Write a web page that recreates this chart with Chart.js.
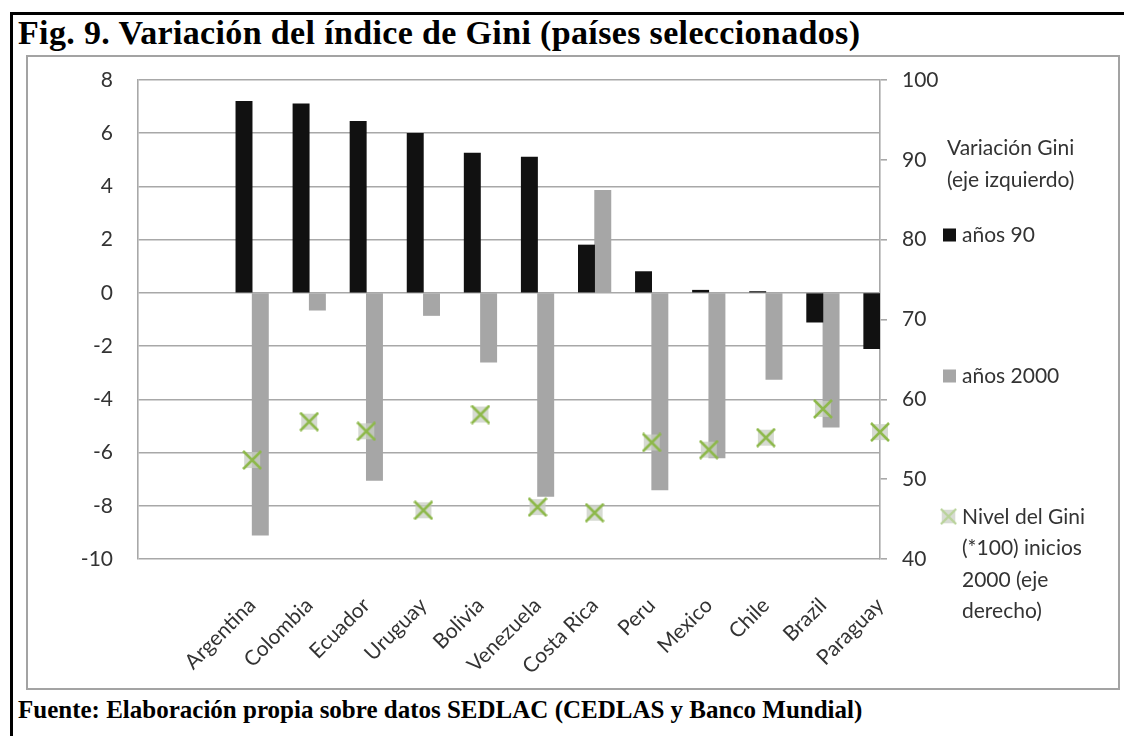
<!DOCTYPE html>
<html>
<head>
<meta charset="utf-8">
<script src="https://cdn.jsdelivr.net/npm/chart.js@4.4.0/dist/chart.umd.min.js"></script>
<style>
  body { margin: 0; background: #fff; }
  #page { position: relative; width: 1124px; height: 736px; overflow: hidden; }
  #frame { position: absolute; left: 10px; top: 12px; width: 1200px; height: 800px;
           border-top: 3px solid #000; border-left: 3px solid #000; }
  #box { position: absolute; left: 26px; top: 55px; width: 1094px; height: 635px;
         box-sizing: border-box; border: 2px solid #a3a3a3; }
  #title { position: absolute; left: 18px; top: 14px; white-space: nowrap; letter-spacing: 0.35px;
           font: bold 34px "Liberation Serif", serif; color: #000; }
  #fuente { position: absolute; left: 18px; top: 696px; white-space: nowrap;
            font: bold 25px "Liberation Serif", serif; color: #000; }
  canvas { position: absolute; left: 0; top: 0; }
</style>
</head>
<body>
<div id="page">
  <div id="frame"></div>
  <div id="box"></div>
  <div id="title">Fig. 9. Variación del índice de Gini (países seleccionados)</div>
  <div id="fuente">Fuente: Elaboración propia sobre datos SEDLAC (CEDLAS y Banco Mundial)</div>
  <canvas id="grafico" width="1124" height="736"></canvas>
</div>
<script>
// datos
const paises = ['Argentina', 'Colombia', 'Ecuador', 'Uruguay', 'Bolivia', 'Venezuela',
                'Costa Rica', 'Peru', 'Mexico', 'Chile', 'Brazil', 'Paraguay'];
const anios90 = [7.2, 7.1, 6.45, 6.0, 5.25, 5.1, 1.8, 0.8, 0.1, 0.05, -1.1, -2.1];
const anios2000 = [-9.1, -0.65, -7.05, -0.85, -2.6, -7.65, 3.85, -7.4, -6.2, -3.25, -5.05, -3.55];
const nivelGini = [52.4, 57.2, 56.0, 46.1, 58.1, 46.5, 45.8, 54.6, 53.7, 55.2, 58.8, 55.9];
const ticksIzq = [-10, -8, -6, -4, -2, 0, 2, 4, 6, 8];
const ticksDer = [40, 50, 60, 70, 80, 90, 100];

const tituloLeyenda = 'Variación Gini (eje izquierdo)';
const fuente = "21px Lato";
const gris = '#a8a8a8';

const aPuntos = (vals) => vals.map((v, i) => ({ x: i, y: v }));

// marcador tipo "x" con fondo gris, como en Excel
const hacerCruz = (fondo, linea) => {
    const c = document.createElement('canvas');
    c.width = 20; c.height = 20;
    const g = c.getContext('2d');
    g.fillStyle = fondo;
    g.fillRect(2, 2, 16, 16);
    g.strokeStyle = linea;
    g.lineWidth = 2.5;
    g.beginPath();
    g.moveTo(1, 1); g.lineTo(19, 19);
    g.moveTo(19, 1); g.lineTo(1, 19);
    g.stroke();
    return c;
};
const cruz = hacerCruz('rgba(200,205,195,0.75)', '#8db84a');
const cruzLeyenda = hacerCruz('rgba(205,210,200,0.8)', '#b9d39a');

const partirTexto = (ctx, texto, ancho) => {
    const palabras = texto.split(' ');
    const lineas = [];
    let actual = '';
    palabras.forEach(p => {
        const prueba = actual ? actual + ' ' + p : p;
        if (ctx.measureText(prueba).width > ancho && actual) {
            lineas.push(actual);
            actual = p;
        } else {
            actual = prueba;
        }
    });
    if (actual) lineas.push(actual);
    return lineas;
};

const leyenda = {
    id: 'leyenda',
    afterDraw(chart) {
        const ctx = chart.ctx;
        const ds = chart.data.datasets;
        ctx.save();
        ctx.font = fuente;
        ctx.fillStyle = '#333';
        ctx.textBaseline = 'middle';
        ctx.textAlign = 'left';
        partirTexto(ctx, tituloLeyenda, 160).forEach((l, i) => ctx.fillText(l, 947, 148 + i * 32));

        const filas = [235, 376, 517];
        ds.forEach((d, k) => {
            const y = filas[k];
            if (d.type === 'line') {
                ctx.drawImage(cruzLeyenda, 940, y - 9, 17, 17);
            } else {
                ctx.fillStyle = d.backgroundColor;
                ctx.fillRect(943, y - 6.5, 13, 13);
            }
            ctx.fillStyle = '#333';
            partirTexto(ctx, d.label, 150).forEach((l, i) => ctx.fillText(l, 962, y + i * 31.5));
        });
        ctx.restore();
    }
};

new Chart(document.getElementById('grafico'), {
    data: {
        datasets: [
            {
                type: 'bar',
                label: 'años 90',
                data: aPuntos(anios90),
                backgroundColor: '#111111',
                yAxisID: 'y',
                barThickness: 16.3,
                clip: 0,
                order: 2
            },
            {
                type: 'bar',
                label: 'años 2000',
                data: aPuntos(anios2000),
                backgroundColor: '#a6a6a6',
                yAxisID: 'y',
                barThickness: 16.3,
                clip: 0,
                order: 2
            },
            {
                type: 'line',
                label: 'Nivel del Gini (*100) inicios 2000 (eje derecho)',
                data: aPuntos(nivelGini),
                showLine: false,
                pointStyle: cruz,
                pointRadius: 10,
                yAxisID: 'y2',
                clip: false,
                order: 1
            }
        ]
    },
    options: {
        responsive: false,
        animation: false,
        devicePixelRatio: 1,
        layout: { padding: { left: 30, right: 164, top: 80, bottom: 40 } },
        plugins: { legend: { display: false }, tooltip: { enabled: false } },
        scales: {
            x: {
                type: 'linear',
                offset: false,
                min: -2,
                max: paises.length - 1,
                grid: { display: false, offset: false },
                border: { display: false },
                afterFit: s => { s.height = 137; },
                afterBuildTicks: s => { s.ticks = paises.map((p, i) => ({ value: i })); },
                ticks: {
                    autoSkip: false,
                    minRotation: 45,
                    maxRotation: 45,
                    padding: 26,
                    color: '#333',
                    font: { family: 'Lato', size: 21 },
                    callback: v => paises[v]
                }
            },
            y: {
                position: 'left',
                min: ticksIzq[0],
                max: ticksIzq[ticksIzq.length - 1],
                afterBuildTicks: s => { s.ticks = ticksIzq.map(v => ({ value: v })); },
                afterFit: s => { s.width = 108; },
                grid: { color: gris, lineWidth: 1.6, drawTicks: false },
                border: { color: gris, width: 1.6 },
                ticks: { padding: 25, color: '#333', font: { family: 'Lato', size: 21 } }
            },
            y2: {
                position: 'right',
                min: ticksDer[0],
                max: ticksDer[ticksDer.length - 1],
                afterBuildTicks: s => { s.ticks = ticksDer.map(v => ({ value: v })); },
                afterFit: s => { s.width = 80; },
                grid: { drawOnChartArea: false, drawTicks: true, tickLength: 7, color: gris, lineWidth: 1.6 },
                border: { color: gris, width: 1.6 },
                ticks: { padding: 15, color: '#333', font: { family: 'Lato', size: 21 } }
            }
        }
    },
    plugins: [leyenda]
});
</script>
</body>
</html>
